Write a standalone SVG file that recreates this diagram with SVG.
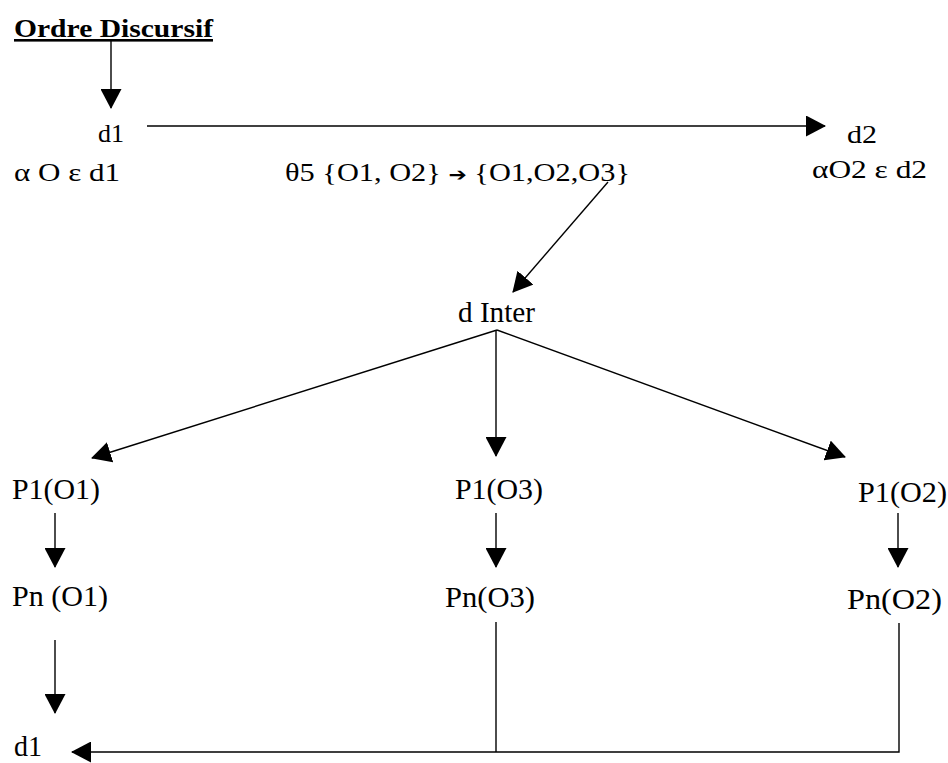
<svg xmlns="http://www.w3.org/2000/svg" width="948" height="763" viewBox="0 0 948 763">
<style>
text{font-family:"Liberation Serif","Times New Roman",serif;fill:#000}
.s{font-size:25px}
.m{font-size:29px}
.t{font-size:26px;font-weight:bold;text-decoration:underline}
.c line,.c polyline{stroke:#000;stroke-width:1.4;fill:none}
</style>
<defs>
<marker id="ah" markerUnits="userSpaceOnUse" markerWidth="20" markerHeight="21" viewBox="0 0 20 21" refX="19" refY="10.5" orient="auto">
<path d="M0,0 L20,10.5 L0,21 z" fill="#000"/>
</marker>
</defs>
<rect width="948" height="763" fill="#fff"/>
<g id="title"><text class="t" x="14" y="37" textLength="199" lengthAdjust="spacingAndGlyphs">Ordre Discursif</text></g>
<g id="d1top"><text class="s" x="98" y="142" textLength="26" lengthAdjust="spacingAndGlyphs">d1</text>
<text class="s" x="14" y="181" textLength="106" lengthAdjust="spacingAndGlyphs">α O ε d1</text></g>
<g id="theta"><text class="s" x="285" y="181" textLength="345" lengthAdjust="spacingAndGlyphs">θ5 {O1, O2} <tspan font-family="DejaVu Sans, sans-serif" font-size="18px">➔</tspan> {O1,O2,O3}</text></g>
<g id="d2"><text class="s" x="847" y="143" textLength="30" lengthAdjust="spacingAndGlyphs">d2</text>
<text class="s" x="812" y="178" textLength="115" lengthAdjust="spacingAndGlyphs">αO2 ε d2</text></g>
<g id="dinter"><text class="m" x="458" y="322" textLength="77" lengthAdjust="spacingAndGlyphs">d Inter</text></g>
<g id="p1o1"><text class="m" x="12" y="499" textLength="88" lengthAdjust="spacingAndGlyphs">P1(O1)</text></g>
<g id="p1o3"><text class="m" x="455" y="499" textLength="88" lengthAdjust="spacingAndGlyphs">P1(O3)</text></g>
<g id="p1o2"><text class="m" x="858" y="502" textLength="89" lengthAdjust="spacingAndGlyphs">P1(O2)</text></g>
<g id="pno1"><text class="m" x="12" y="606" textLength="96" lengthAdjust="spacingAndGlyphs">Pn (O1)</text></g>
<g id="pno3"><text class="m" x="445" y="607" textLength="90" lengthAdjust="spacingAndGlyphs">Pn(O3)</text></g>
<g id="pno2"><text class="m" x="847" y="609" textLength="95" lengthAdjust="spacingAndGlyphs">Pn(O2)</text></g>
<g id="d1bottom"><text class="m" x="14" y="756" font-size="25px" textLength="28" lengthAdjust="spacingAndGlyphs">d1</text></g>
<g id="connectors" class="c">
<line x1="111" y1="40" x2="111" y2="108" marker-end="url(#ah)"/>
<line x1="147" y1="126" x2="825" y2="126" marker-end="url(#ah)"/>
<line x1="608" y1="182" x2="513" y2="292" marker-end="url(#ah)"/>
<line x1="497" y1="330" x2="92" y2="458" marker-end="url(#ah)"/>
<line x1="496" y1="330" x2="496" y2="456" marker-end="url(#ah)"/>
<line x1="497" y1="330" x2="845" y2="457" marker-end="url(#ah)"/>
<line x1="55" y1="513" x2="55" y2="567" marker-end="url(#ah)"/>
<line x1="496" y1="513" x2="496" y2="567" marker-end="url(#ah)"/>
<line x1="898" y1="513" x2="898" y2="567" marker-end="url(#ah)"/>
<line x1="55" y1="640" x2="55" y2="713" marker-end="url(#ah)"/>
<line x1="496" y1="622" x2="496" y2="752"/>
<polyline points="899,623 899,752 72,752" marker-end="url(#ah)"/>
</g>
</svg>
